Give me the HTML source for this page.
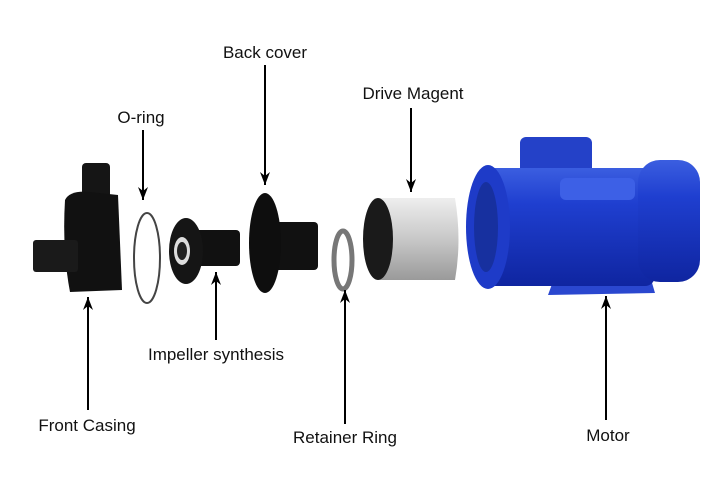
<!DOCTYPE html>
<html><head><style>body{margin:0;background:#fff}svg{display:block}text{font-family:"Liberation Sans",sans-serif;font-size:17px;fill:#111}</style></head><body>
<svg width="720" height="500" viewBox="0 0 720 500">
<defs>
<marker id="a" markerWidth="14" markerHeight="10" refX="13" refY="5" orient="auto" markerUnits="userSpaceOnUse"><path d="M0,0 L13,5 L0,10 L4,5 Z" fill="#000"/></marker>
<linearGradient id="s" x1="0" y1="0" x2="0" y2="1"><stop offset="0" stop-color="#eee"/><stop offset="0.5" stop-color="#c8c8c8"/><stop offset="1" stop-color="#9a9a9a"/></linearGradient>
<linearGradient id="b" x1="0" y1="0" x2="0" y2="1"><stop offset="0" stop-color="#3b5ee0"/><stop offset="0.3" stop-color="#1f3fd0"/><stop offset="1" stop-color="#0f25a0"/></linearGradient>
</defs>
<rect x="82" y="163" width="28" height="60" rx="4" fill="#151515"/>
<path d="M65 200 Q70 190 90 192 L118 195 L122 290 L70 292 Q62 250 65 200Z" fill="#111"/>
<rect x="33" y="240" width="45" height="32" rx="3" fill="#1a1a1a"/>
<ellipse cx="147" cy="258" rx="13" ry="45" fill="none" stroke="#444" stroke-width="2"/>
<rect x="195" y="230" width="45" height="36" rx="4" fill="#111"/>
<ellipse cx="186" cy="251" rx="17" ry="33" fill="#151515"/>
<ellipse cx="182" cy="251" rx="8" ry="14" fill="#ddd"/>
<ellipse cx="182" cy="251" rx="5" ry="9" fill="#222"/>
<rect x="272" y="222" width="46" height="48" rx="4" fill="#111"/>
<ellipse cx="265" cy="243" rx="16" ry="50" fill="#0e0e0e"/>
<ellipse cx="343" cy="260" rx="9" ry="29" fill="none" stroke="#777" stroke-width="5"/>
<path d="M378 198 L455 198 Q462 240 455 280 L378 280Z" fill="url(#s)"/>
<ellipse cx="378" cy="239" rx="15" ry="41" fill="#1a1a1a"/>
<rect x="520" y="137" width="72" height="40" rx="6" fill="#2441c8"/>
<path d="M555 276 L650 276 L655 293 L548 295Z" fill="#2a47cf"/>
<rect x="485" y="168" width="170" height="118" rx="10" fill="url(#b)"/>
<rect x="638" y="160" width="62" height="122" rx="22" fill="url(#b)"/>
<ellipse cx="488" cy="227" rx="22" ry="62" fill="#1e3bc8"/>
<ellipse cx="486" cy="227" rx="12" ry="45" fill="#17309f"/>
<rect x="560" y="178" width="75" height="22" rx="6" fill="#3d60e6"/>
<g stroke="#000" stroke-width="2">
<line x1="265" y1="65" x2="265" y2="185" marker-end="url(#a)"/>
<line x1="143" y1="130" x2="143" y2="200" marker-end="url(#a)"/>
<line x1="411" y1="108" x2="411" y2="192" marker-end="url(#a)"/>
<line x1="216" y1="340" x2="216" y2="272" marker-end="url(#a)"/>
<line x1="88" y1="410" x2="88" y2="297" marker-end="url(#a)"/>
<line x1="345" y1="424" x2="345" y2="290" marker-end="url(#a)"/>
<line x1="606" y1="420" x2="606" y2="296" marker-end="url(#a)"/>
</g>
<text x="265" y="58" text-anchor="middle">Back cover</text>
<text x="141" y="123" text-anchor="middle">O-ring</text>
<text x="413" y="99" text-anchor="middle">Drive Magent</text>
<text x="216" y="360" text-anchor="middle">Impeller synthesis</text>
<text x="87" y="431" text-anchor="middle">Front Casing</text>
<text x="345" y="443" text-anchor="middle">Retainer Ring</text>
<text x="608" y="441" text-anchor="middle">Motor</text>
</svg>
</body></html>
